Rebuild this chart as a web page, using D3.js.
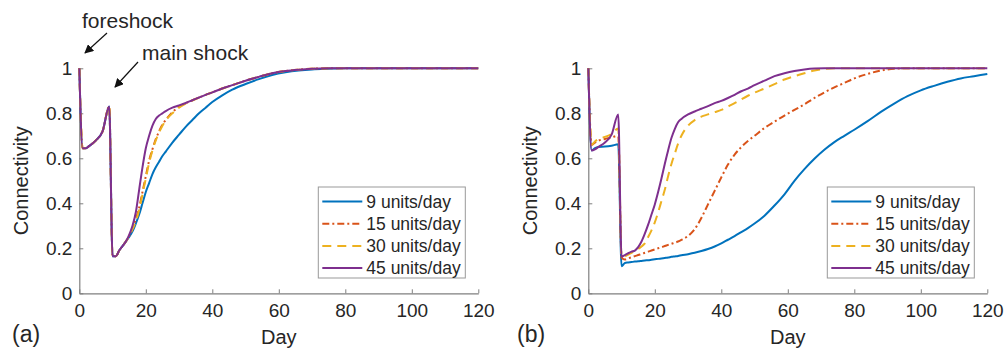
<!DOCTYPE html>
<html>
<head>
<meta charset="utf-8">
<script src="https://cdn.jsdelivr.net/npm/d3@7"></script>
<style>
  body { margin: 0; background: #fff; }
  svg { display: block; font-family: "Liberation Sans", Arial, sans-serif; }
</style>
</head>
<body>
<svg id="chart" width="1006" height="352"></svg>
<script>
"use strict";

// Panel (a): days sampled and connectivity per series
var daysA = [0, 1, 2, 3, 5, 7, 9, 10, 11, 12, 13, 14, 15, 16, 17, 18, 19, 20, 21, 22, 23, 24, 25, 26,
    28, 30, 32, 34, 36, 38, 40, 43, 46, 50, 54, 58, 62, 66, 70, 75, 80, 90, 100, 110, 120];

var blueA = [1.0, 0.645, 0.645, 0.655, 0.68, 0.72, 0.83,
    0.165, 0.165, 0.19, 0.21, 0.23, 0.25, 0.275, 0.31, 0.35, 0.40, 0.45, 0.49, 0.53, 0.56, 0.585, 0.61, 0.63,
    0.67, 0.705, 0.74, 0.77, 0.80, 0.825, 0.85,
    0.88, 0.905, 0.93, 0.952, 0.97, 0.982, 0.99, 0.995, 0.998, 1,
    1, 1, 1, 1];
var orangeA = [1.0, 0.645, 0.645, 0.655, 0.68, 0.72, 0.83,
    0.165, 0.165, 0.19, 0.21, 0.23, 0.255, 0.29, 0.33, 0.38, 0.45, 0.52, 0.59, 0.64, 0.685, 0.72, 0.75, 0.77,
    0.805, 0.83, 0.845, 0.858, 0.87, 0.882, 0.893,
    0.91, 0.925, 0.945, 0.962, 0.978, 0.988, 0.994, 0.998, 1, 1,
    1, 1, 1, 1];
var yellowA = [1.0, 0.645, 0.645, 0.655, 0.68, 0.72, 0.83,
    0.165, 0.165, 0.19, 0.21, 0.23, 0.255, 0.285, 0.32, 0.37, 0.44, 0.51, 0.58, 0.635, 0.68, 0.715, 0.745, 0.768,
    0.80, 0.825, 0.843, 0.857, 0.87, 0.882, 0.893,
    0.91, 0.925, 0.945, 0.962, 0.978, 0.988, 0.994, 0.998, 1, 1,
    1, 1, 1, 1];
var purpleA = [1.0, 0.645, 0.645, 0.655, 0.68, 0.72, 0.83,
    0.165, 0.165, 0.19, 0.21, 0.23, 0.26, 0.30, 0.36, 0.46, 0.56, 0.645, 0.70, 0.745, 0.775, 0.79, 0.80, 0.81,
    0.825, 0.835, 0.846, 0.858, 0.87, 0.882, 0.893,
    0.91, 0.925, 0.945, 0.962, 0.978, 0.988, 0.994, 0.998, 1, 1,
    1, 1, 1, 1];

// Panel (b)
var daysB = [0, 1, 2, 3, 5, 7, 9, 10, 11, 12, 13, 14, 15, 16, 17, 18, 19, 20, 21, 22, 23, 24, 25, 26, 27, 28,
    30, 32, 34, 36, 38, 40, 42, 44, 46, 48, 50, 53, 56, 59, 62, 65, 68, 71, 74, 77, 80,
    84, 88, 92, 96, 100, 104, 108, 112, 116, 120];

var blueB = [1.0, 0.635, 0.645, 0.65, 0.652, 0.656, 0.662,
    0.12, 0.135, 0.137, 0.139, 0.141, 0.142, 0.144, 0.146, 0.147, 0.149, 0.151, 0.153, 0.155, 0.157, 0.159, 0.162, 0.164, 0.166, 0.169,
    0.174, 0.18, 0.188, 0.197, 0.208, 0.222, 0.238, 0.254, 0.272, 0.29, 0.31,
    0.345, 0.39, 0.44, 0.5, 0.552, 0.598, 0.638, 0.672, 0.70, 0.727,
    0.765, 0.806, 0.843, 0.876, 0.902, 0.922, 0.94, 0.955, 0.965, 0.975];
var orangeB = [1.0, 0.66, 0.67, 0.678, 0.686, 0.693, 0.70,
    0.16, 0.15, 0.155, 0.16, 0.165, 0.17, 0.175, 0.18, 0.185, 0.19, 0.195, 0.20, 0.205, 0.21, 0.215, 0.22, 0.225, 0.23, 0.237,
    0.255, 0.285, 0.335, 0.395, 0.455, 0.515, 0.572, 0.616, 0.65, 0.677, 0.70,
    0.735, 0.763, 0.79, 0.815, 0.84, 0.868, 0.893, 0.915, 0.935, 0.955,
    0.975, 0.99, 0.998, 1, 1, 1, 1, 1, 1, 1];
var yellowB = [1.0, 0.66, 0.675, 0.685, 0.695, 0.708, 0.733,
    0.165, 0.165, 0.172, 0.18, 0.188, 0.197, 0.208, 0.222, 0.25, 0.28, 0.315, 0.36, 0.41, 0.46, 0.52, 0.575, 0.62, 0.665, 0.70,
    0.745, 0.77, 0.785, 0.795, 0.805, 0.815, 0.83, 0.845, 0.862, 0.878, 0.892,
    0.91, 0.93, 0.95, 0.965, 0.978, 0.99, 0.997, 1, 1, 1,
    1, 1, 1, 1, 1, 1, 1, 1, 1, 1];
var purpleB = [1.0, 0.635, 0.64, 0.65, 0.67, 0.705, 0.795,
    0.163, 0.17, 0.178, 0.185, 0.19, 0.205, 0.23, 0.265, 0.305, 0.35, 0.395, 0.45, 0.51, 0.575, 0.635, 0.69, 0.73, 0.76, 0.775,
    0.795, 0.808, 0.82, 0.832, 0.845, 0.855, 0.868, 0.882, 0.898, 0.91, 0.925,
    0.945, 0.965, 0.978, 0.988, 0.995, 0.999, 1, 1, 1, 1,
    1, 1, 1, 1, 1, 1, 1, 1, 1, 1];

var seriesNames = ["9 units/day", "15 units/day", "30 units/day", "45 units/day"];
var xTicks = [0, 20, 40, 60, 80, 100, 120];
var yTicks = [0, 0.2, 0.4, 0.6, 0.8, 1];
var yTickLabels = ["0", "0.2", "0.4", "0.6", "0.8", "1"];

// Line styles (MATLAB default colours)
var lineColors = ["#0072BD", "#D95319", "#EDB120", "#7E2F8E"];
var lineDashes = [null, "7,3,2,3", "9,6", null];

var svg = d3.select("#chart");
var axisColor = "#7f7f7f";
var textColor = "#262626";

svg.append("rect")
    .attr("width", 1006)
    .attr("height", 352)
    .attr("fill", "#fff")
;

svg.append("defs")
    .append("marker")
    .attr("id", "arrow")
    .attr("viewBox", "0 0 10 10")
    .attr("refX", 9)
    .attr("refY", 5)
    .attr("markerWidth", 9)
    .attr("markerHeight", 9)
    .attr("markerUnits", "userSpaceOnUse")
    .attr("orient", "auto")
    .append("path")
    .attr("d", "M0,0L10,5L0,10z")
    .attr("fill", "#111")
;

var plotTop = 68.3;
var plotHeight = 225;
var plotWidth = 399;

function drawPanel(left, days, series, tag, tagX, yLabelX) {
    var x = d3.scaleLinear().domain([0, 120]).range([left, left + plotWidth]);
    var y = d3.scaleLinear().domain([0, 1]).range([plotTop + plotHeight, plotTop]);

    var g = svg.append("g");

    // Axes, ticks pointing inward
    var gx = g.append("g")
        .attr("transform", "translate(0," + y(0) + ")")
        .call(d3.axisBottom(x).tickValues(xTicks).tickSize(-4).tickSizeOuter(0).tickPadding(10))
    ;
    var gy = g.append("g")
        .attr("transform", "translate(" + x(0) + ",0)")
        .call(d3.axisLeft(y).tickValues(yTicks)
            .tickFormat(function(d, i) { return yTickLabels[i]; })
            .tickSize(-4).tickSizeOuter(0).tickPadding(7))
    ;
    [gx, gy].forEach(function(ax) {
        ax.select(".domain").attr("stroke", axisColor).attr("stroke-width", 1.2);
        ax.selectAll(".tick line").attr("stroke", axisColor);
        ax.selectAll(".tick text")
            .attr("fill", textColor)
            .style("font-size", "19px")
            .style("font-family", "'Liberation Sans', Arial, sans-serif")
        ;
    });

    var line = d3.line()
        .x(function(d) { return x(d[0]); })
        .y(function(d) { return y(d[1]); })
        .curve(d3.curveMonotoneX)
    ;

    series.forEach(function(vals, i) {
        g.append("path")
            .datum(days.map(function(d, j) { return [d, vals[j]]; }))
            .attr("d", line)
            .attr("fill", "none")
            .attr("stroke", lineColors[i])
            .attr("stroke-width", 2)
            .attr("stroke-dasharray", lineDashes[i])
            .attr("stroke-linejoin", "round")
        ;
    });

    // Axis titles
    g.append("text")
        .attr("transform", "translate(" + yLabelX + "," + (plotTop + plotHeight / 2) + ") rotate(-90)")
        .attr("text-anchor", "middle")
        .attr("fill", textColor)
        .style("font-size", "20px")
        .text("Connectivity")
    ;
    g.append("text")
        .attr("x", x(60))
        .attr("y", 344)
        .attr("text-anchor", "middle")
        .attr("fill", textColor)
        .style("font-size", "20px")
        .text("Day")
    ;
    g.append("text")
        .attr("x", tagX)
        .attr("y", 342)
        .attr("fill", textColor)
        .style("font-size", "23px")
        .text(tag)
    ;

    // Legend
    var lw = 147, lh = 91;
    var lx = x(120) - 13 - lw;
    var ly = 187;
    var lg = g.append("g").attr("transform", "translate(" + lx + "," + ly + ")");
    lg.append("rect")
        .attr("width", lw)
        .attr("height", lh)
        .attr("fill", "#fff")
        .attr("stroke", "#999")
    ;
    seriesNames.forEach(function(name, i) {
        var ry = 14.5 + i * 22.2;
        lg.append("line")
            .attr("x1", 4).attr("x2", 44)
            .attr("y1", ry).attr("y2", ry)
            .attr("stroke", lineColors[i])
            .attr("stroke-width", 2)
            .attr("stroke-dasharray", lineDashes[i])
        ;
        lg.append("text")
            .attr("x", 48)
            .attr("y", ry + 6.2)
            .attr("fill", textColor)
            .style("font-size", "17.5px")
            .text(name)
        ;
    });

    return g;
}

drawPanel(79.3, daysA, [blueA, orangeA, yellowA, purpleA], "(a)", 12, 28);
drawPanel(588.3, daysB, [blueB, orangeB, yellowB, purpleB], "(b)", 517, 537);

// Annotations on panel (a)
svg.append("text")
    .attr("x", 82).attr("y", 28)
    .attr("fill", textColor)
    .style("font-size", "21px")
    .text("foreshock")
;
svg.append("line")
    .attr("x1", 107).attr("y1", 33)
    .attr("x2", 85).attr("y2", 53)
    .attr("stroke", "#111")
    .attr("stroke-width", 1.2)
    .attr("marker-end", "url(#arrow)")
;
svg.append("text")
    .attr("x", 142).attr("y", 60)
    .attr("fill", textColor)
    .style("font-size", "21px")
    .text("main shock")
;
svg.append("line")
    .attr("x1", 138).attr("y1", 62)
    .attr("x2", 115).attr("y2", 87)
    .attr("stroke", "#111")
    .attr("stroke-width", 1.2)
    .attr("marker-end", "url(#arrow)")
;
</script>
</body>
</html>
